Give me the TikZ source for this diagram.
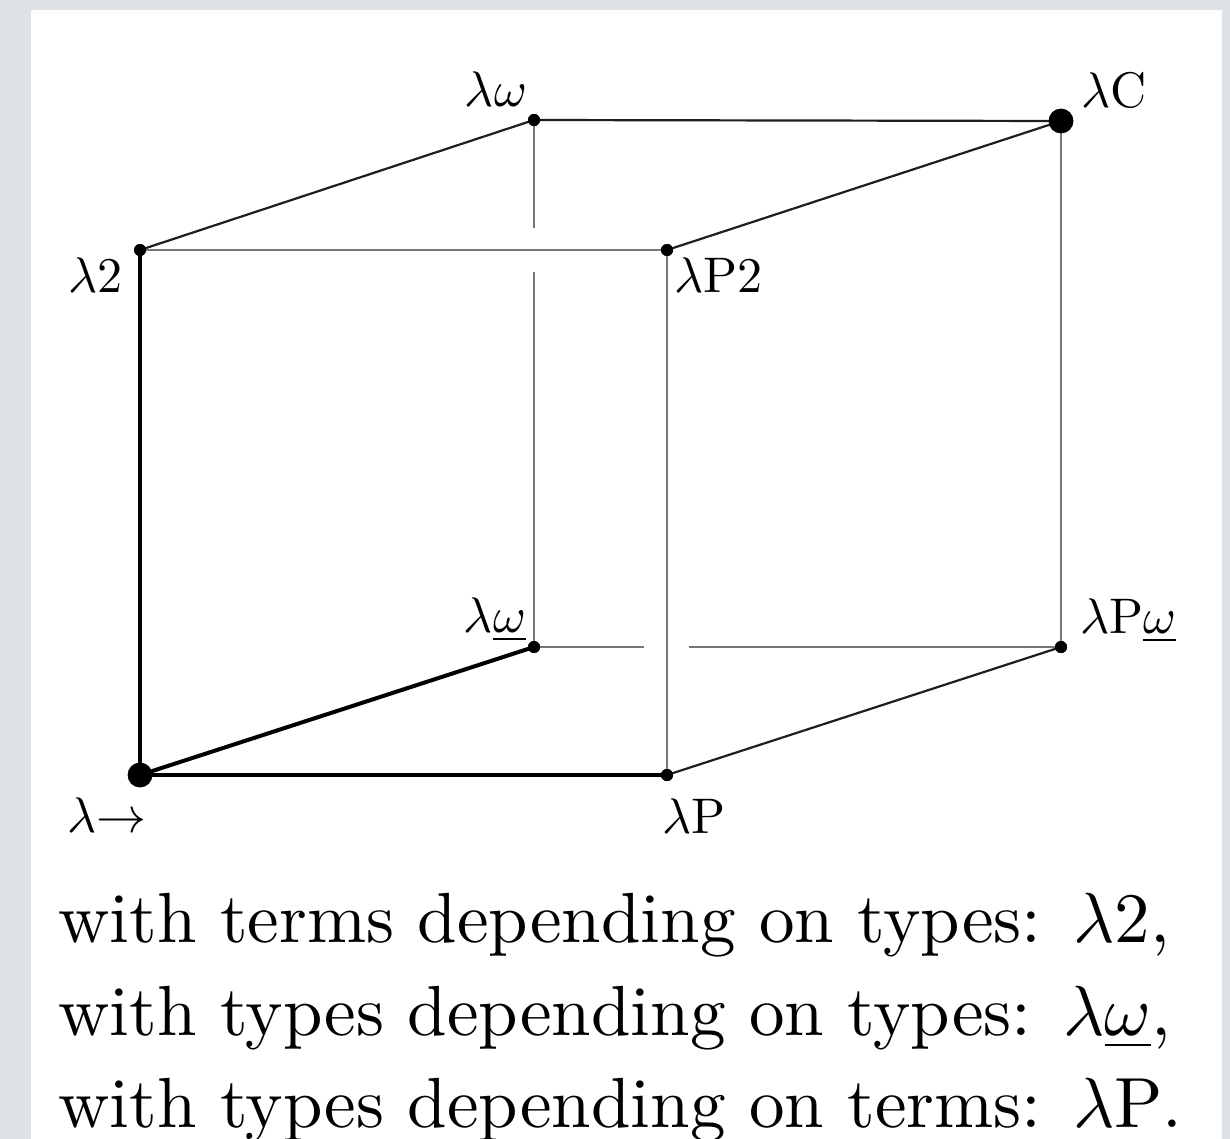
\documentclass[tikz,border=0pt]{standalone}
\usetikzlibrary{calc}
\definecolor{bggray}{RGB}{222,226,230}
\definecolor{edgegray}{RGB}{120,120,120}
\definecolor{darkedge}{RGB}{30,30,30}
\begin{document}
\begin{tikzpicture}[x=0.5pt,y=-0.5pt,
  vtx/.style={circle,fill=black,inner sep=0pt,minimum size=6pt},
  bigvtx/.style={circle,fill=black,inner sep=0pt,minimum size=12pt},
  lab/.style={inner sep=0pt,font=\fontsize{10}{12}\selectfont,scale=2.5},
  captext/.style={inner sep=0pt,anchor=base west,font=\fontsize{10}{12}\selectfont,scale=3.55},
  frontedge/.style={black,line width=2pt},
  thinedge/.style={darkedge,line width=1.1pt},
  grayedge/.style={edgegray,line width=1.3pt}]
\useasboundingbox (0,0) rectangle (1230,1139);
\fill[bggray] (0,0) rectangle (1230,1139);
\fill[white] (31,10) rectangle (1222,1139);
% vertices
\node[bigvtx] (lto) at (140,775) {};
\node[vtx] (lP) at (667,775) {};
\node[vtx] (lwu) at (534,647) {};
\node[vtx] (lPwu) at (1061,647) {};
\node[vtx] (l2) at (140,250) {};
\node[vtx] (lP2) at (667,250) {};
\node[vtx] (lw) at (534,120) {};
\node[bigvtx] (lC) at (1061,121) {};
% crossing gap coordinates
\coordinate (gv1) at ($(lw.center |- l2.center)+(0,-22)$);
\coordinate (gv2) at ($(lw.center |- l2.center)+(0,22)$);
\coordinate (gh1) at ($(lP.center |- lwu.center)+(-23,0)$);
\coordinate (gh2) at ($(lP.center |- lwu.center)+(22,0)$);
% back edges
\draw[grayedge] (lwu.center) -- (gv2);
\draw[grayedge] (gv1) -- (lw.center);
\draw[grayedge] (lwu.center) -- (gh1);
\draw[grayedge] (gh2) -- (lPwu.center);
\draw[grayedge] (lC.center) -- (lPwu.center);
\draw[grayedge] (lP.center) -- (lP2.center);
\draw[grayedge] (l2.center) -- (lP2.center);
\draw[thinedge] (lw.center) -- (lC.center);
\draw[thinedge] (l2.center) -- (lw.center);
\draw[thinedge] (lP2.center) -- (lC.center);
\draw[thinedge] (lP.center) -- (lPwu.center);
\draw[frontedge] (lto.center) -- (l2.center);
\draw[frontedge] (lto.center) -- (lP.center);
\draw[frontedge] (lto.center) -- (lwu.center);
% redraw vertices on top
\foreach \v in {lP,lwu,lPwu,l2,lP2,lw} \fill (\v.center) circle (3pt);
\foreach \v in {lto,lC} \fill (\v.center) circle (6.2pt);
% labels
\node[lab,anchor=base east] (tw) at (528,107) {$\lambda\omega$};
\node[lab,anchor=base west] (tC) at (1080,108) {$\lambda\mathrm{C}$};
\node[lab,anchor=base west] (t2) at (67,292) {$\lambda2$};
\node[lab,anchor=base west] (tP2) at (673,292) {$\lambda\mathrm{P}2$};
\node[lab,anchor=base east] (twu) at (527,632) {$\lambda\underline{\omega}$};
\node[lab,anchor=base west] (tPwu) at (1079,633) {$\lambda\mathrm{P}\underline{\omega}$};
\node[lab,anchor=base west] (tto) at (66,832) {$\lambda{\to}$};
\node[lab,anchor=base west] (tP) at (661,833) {$\lambda\mathrm{P}$};
% caption
\node[captext] (c1) at (57,942) {with terms depending on types: $\lambda2$,};
\node[captext] (c2) at (57,1035) {with types depending on types: $\lambda\underline{\omega}$,};
\node[captext] (c3) at (57,1127) {with types depending on terms: $\lambda\mathrm{P}$.};
\end{tikzpicture}
\end{document}
